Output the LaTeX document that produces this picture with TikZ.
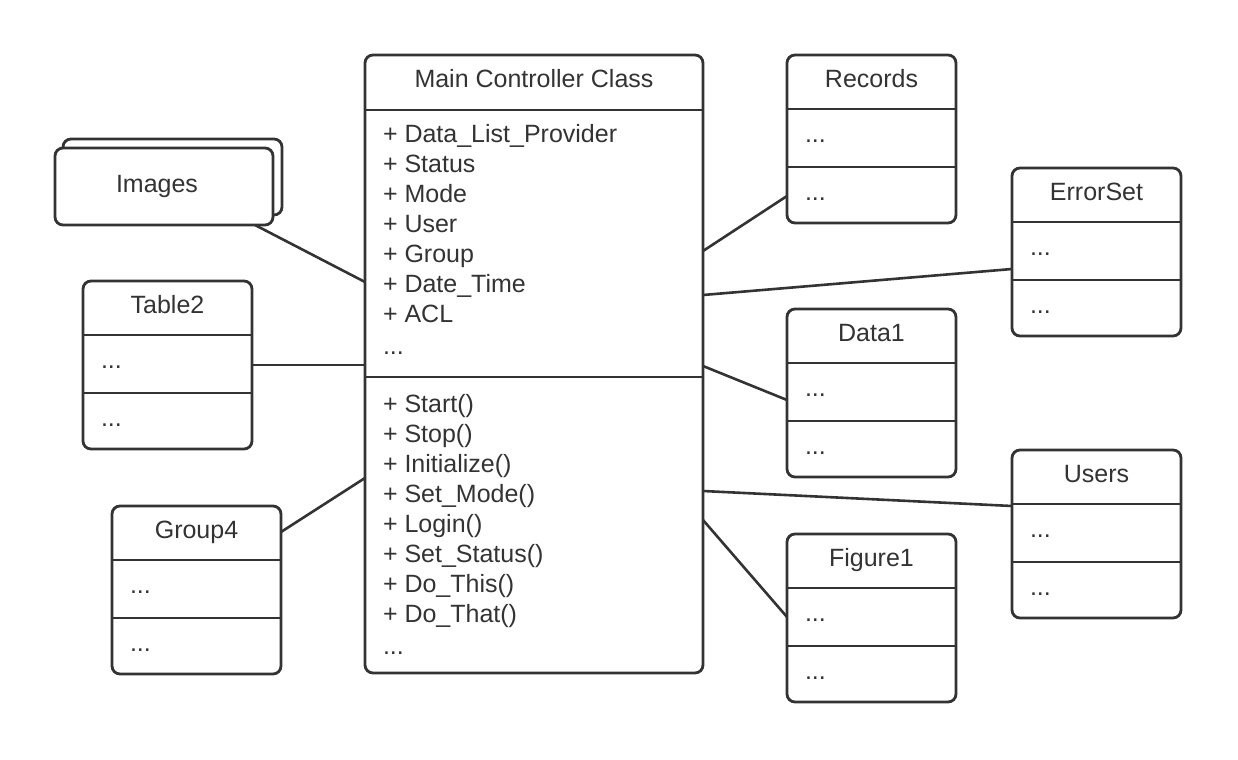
\documentclass[tikz,border=0pt]{standalone}
\usepackage{fontspec}
\setmainfont{Liberation Sans}
\definecolor{ink}{HTML}{333333}
\tikzset{
  ln/.style={draw=ink, line width=1.3pt},
  cbox/.style={draw=ink, line width=1.4pt, rounded corners=4pt, fill=white, inner sep=0pt, outer sep=0pt},
  txt/.style={text=ink, inner sep=0pt, outer sep=0pt, font=\fontsize{12.5}{15}\selectfont},
}
\newcommand\umlclass[4]{% name, left x, top y, title
  \node[cbox, anchor=north west, minimum width=84.5pt, minimum height=84pt] (#1) at (#2,#3) {};
  \draw[ln] ([shift={(0,54)}]#1.north west) -- ([shift={(0,54)}]#1.north east);
  \draw[ln] ([shift={(0,112)}]#1.north west) -- ([shift={(0,112)}]#1.north east);
  \node[txt, anchor=base] (#1-title) at ([shift={(0,32)}]#1.north) {#4};
  \node[txt, anchor=base west] (#1-d1) at ([shift={(18,87)}]#1.north west) {...};
  \node[txt, anchor=base west] (#1-d2) at ([shift={(18,145)}]#1.north west) {...};
}
\begin{document}
\begin{tikzpicture}[x=0.5pt, y=-0.5pt]
\useasboundingbox (0,0) rectangle (1238,760);

% Images (stacked)
\node[cbox, anchor=north west, minimum width=109.5pt, minimum height=38pt] (imgback) at (63,139) {};
\node[cbox, anchor=north west, minimum width=109pt, minimum height=38.5pt] (images) at (55,148) {};
\node[txt, anchor=base] (images-t) at (157,192) {Images};

% Main controller class
\node[cbox, anchor=north west, minimum width=169pt, minimum height=309pt] (main) at (365,55) {};
\draw[ln] ([shift={(0,55)}]main.north west) -- ([shift={(0,55)}]main.north east);
\draw[ln] ([shift={(0,322)}]main.north west) -- ([shift={(0,322)}]main.north east);
\node[txt, anchor=base] (main-title) at ([shift={(0,32)}]main.north) {Main Controller Class};
\foreach \t [count=\i] in {+ Data\_List\_Provider, + Status, + Mode, + User, + Group, + Date\_Time, + ACL}
  \node[txt, anchor=base west] (attr\i) at ([shift={(18,87+30*\i-30)}]main.north west) {\t};
\node[txt, anchor=base west] (attr8) at ([shift={(18,299)}]main.north west) {...};
\foreach \t [count=\i] in {+ Start(), + Stop(), + Initialize(), + Set\_Mode(), + Login(), + Set\_Status(), + Do\_This(), + Do\_That()}
  \node[txt, anchor=base west] (meth\i) at ([shift={(18,357+30*\i-30)}]main.north west) {\t};
\node[txt, anchor=base west] (meth9) at ([shift={(18,599)}]main.north west) {...};

% Other classes
\umlclass{table2}{83}{281}{Table2}
\umlclass{group4}{112}{506}{Group4}
\umlclass{records}{787}{55}{Records}
\umlclass{errorset}{1012}{168}{ErrorSet}
\umlclass{data1}{787}{309}{Data1}
\umlclass{users}{1012}{450}{Users}
\umlclass{figure1}{787}{534}{Figure1}

% Connectors
\draw[ln] ([shift={(-18,0)}]images.south east) -- ([shift={(0,227)}]main.north west);
\draw[ln] ([shift={(0,84)}]table2.north east) -- ([shift={(0,310)}]main.north west);
\draw[ln] ([shift={(0,26)}]group4.north east) -- ([shift={(0,423)}]main.north west);
\draw[ln] ([shift={(0,196)}]main.north east) -- ([shift={(0,141)}]records.north west);
\draw[ln] ([shift={(0,240)}]main.north east) -- ([shift={(0,101)}]errorset.north west);
\draw[ln] ([shift={(0,311)}]main.north east) -- ([shift={(0,91)}]data1.north west);
\draw[ln] ([shift={(0,436)}]main.north east) -- ([shift={(0,56)}]users.north west);
\draw[ln] ([shift={(0,465)}]main.north east) -- ([shift={(0,83)}]figure1.north west);
\end{tikzpicture}
\end{document}
